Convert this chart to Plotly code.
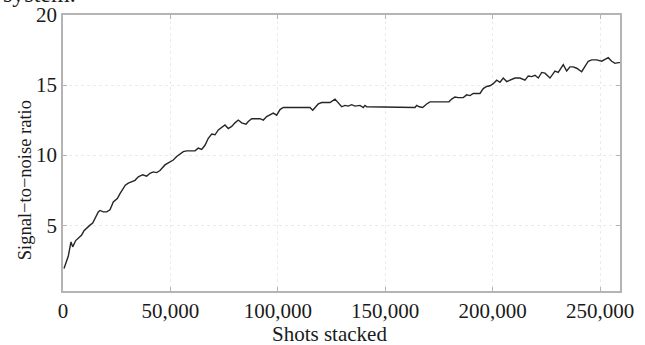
import plotly.graph_objects as go

# Data
shots = [470, 1720, 2470, 3720, 4520, 5910, 7120, 8700, 9780, 11030, 12570, 13830,
         15220, 16430, 17220, 18760, 20340, 21880, 23410, 25280, 26530, 27790, 29000,
         30400, 31980, 33520, 35050, 37100, 38960, 40500, 42040, 43620, 45150, 47480,
         49020, 51350, 52930, 54460, 56000, 57580, 59120, 61450, 62980, 64560, 66100,
         67640, 69220, 70760, 72290, 73870, 75410, 76940, 78530, 80070, 81600, 83180,
         85190, 86260, 87840, 91700, 93240, 94820, 96360, 97890, 99480, 101010, 102550,
         114980, 116240, 117310, 118840, 120430, 124290, 126620, 128150, 129740, 131270,
         132810, 134390, 135930, 138260, 139790, 140580, 141370, 163860, 164650, 165860,
         167440, 169300, 170840, 179680, 180940, 182480, 184010, 186340, 187920, 189460,
         190990, 194110, 195650, 197230, 198770, 200310, 201890, 203420, 204960, 206540,
         208080, 210400, 212730, 215060, 216600, 218180, 219720, 221250, 222840, 224370,
         226700, 229030, 230560, 232890, 234470, 236010, 237550, 239130, 241460, 242990,
         244530, 246110, 248440, 250770, 252300, 253840, 255420, 256960, 258490, 259280]
snr = [1.9, 2.4, 2.8, 3.8, 3.45, 3.9, 4.05, 4.3, 4.6, 4.8, 5.0, 5.15,
       5.6, 5.95, 6.05, 5.95, 5.95, 6.1, 6.65, 6.9, 7.25, 7.6, 7.85,
       8.0, 8.1, 8.2, 8.45, 8.6, 8.5, 8.7, 8.8, 8.75, 8.9, 9.3,
       9.45, 9.65, 9.9, 10.07, 10.25, 10.3, 10.3, 10.3, 10.5, 10.4, 10.7,
       11.2, 11.5, 11.45, 11.8, 12.0, 12.15, 11.9, 12.05, 12.3, 12.5, 12.3,
       12.2, 12.4, 12.6, 12.6, 12.5, 12.75, 12.85, 13.0, 12.85, 13.25, 13.4,
       13.4, 13.2, 13.4, 13.65, 13.75, 13.75, 14.0, 13.75, 13.45, 13.55,
       13.5, 13.6, 13.5, 13.55, 13.4, 13.55, 13.45, 13.4, 13.55, 13.45,
       13.4, 13.65, 13.8, 13.8, 14.0, 14.15, 14.1, 14.1, 14.3, 14.25,
       14.4, 14.4, 14.75, 14.9, 14.95, 15.1, 15.35, 15.2, 15.5, 15.25,
       15.35, 15.5, 15.5, 15.35, 15.65, 15.6, 15.7, 15.5, 15.9, 15.85,
       15.5, 16.0, 15.9, 16.45, 16.0, 16.3, 16.3, 16.2, 15.95, 16.3,
       16.7, 16.8, 16.8, 16.7, 16.8, 16.95, 16.7, 16.55, 16.6, 16.6]

x_ticks = [0, 50000, 100000, 150000, 200000, 250000]
x_tick_labels = ["0", "50,000", "100,000", "150,000", "200,000", "250,000"]
y_ticks = [5, 10, 15, 20]
y_tick_labels = ["5", "10", "15", "20"]

FONT = "Liberation Serif, Times New Roman, serif"
AXIS_COLOR = "#b4b4b4"
GRID_COLOR = "#ebebeb"

fig = go.Figure()
fig.add_trace(go.Scatter(x=shots, y=snr, mode="lines",
                         line=dict(color="#262626", width=1.4),
                         showlegend=False, hoverinfo="skip"))

common = dict(showline=True, linecolor=AXIS_COLOR, linewidth=1.5, mirror="ticks",
              ticks="inside", ticklen=4, tickcolor=AXIS_COLOR,
              showgrid=True, gridcolor=GRID_COLOR, griddash="dot", gridwidth=1,
              zeroline=False, automargin=False,
              tickfont=dict(family=FONT, size=21, color="#1a1a1a"))

fig.update_layout(
    width=645, height=345,
    margin=dict(l=63, r=25, t=15, b=54, autoexpand=False),
    paper_bgcolor="white", plot_bgcolor="white",
    font=dict(family=FONT, size=21, color="#1a1a1a"),
    xaxis=dict(range=[0, 259300], tickvals=x_ticks, ticktext=x_tick_labels, **common),
    yaxis=dict(range=[0.3, 20], tickvals=y_ticks, ticktext=y_tick_labels, **common),
    annotations=[
        dict(text="Shots stacked", xref="paper", yref="paper",
             x=0.479, y=-0.156, xanchor="center", yanchor="middle",
             showarrow=False, font=dict(family=FONT, size=21, color="#1a1a1a")),
        dict(text="Signal\u2212to\u2212noise ratio", xref="paper", yref="paper",
             x=-0.069, y=0.40, xanchor="center", yanchor="middle", textangle=-90,
             showarrow=False, font=dict(family=FONT, size=18.5, color="#1a1a1a")),
        dict(text="system.", xref="paper", yref="paper",
             x=0.027, y=1.075, xanchor="right", yanchor="middle",
             showarrow=False, font=dict(family=FONT, size=24, color="#1a1a1a")),
    ],
)

fig.write_html("out.html")
